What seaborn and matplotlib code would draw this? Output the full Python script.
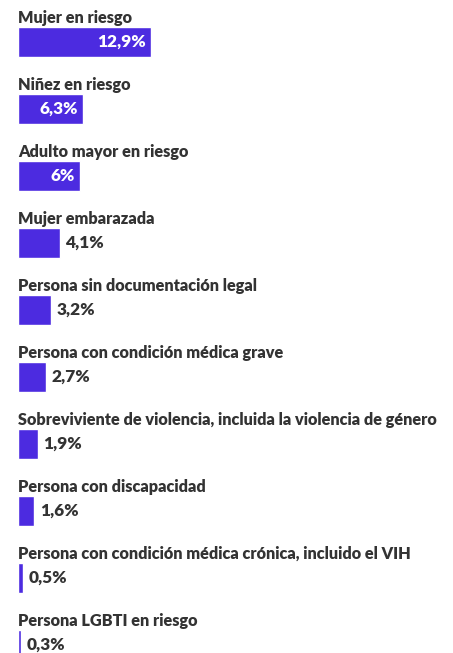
import pandas as pd
import matplotlib.pyplot as plt
import seaborn as sns

categories = [
    "Mujer en riesgo",
    "Niñez en riesgo",
    "Adulto mayor en riesgo",
    "Mujer embarazada",
    "Persona sin documentación legal",
    "Persona con condición médica grave",
    "Sobreviviente de violencia, incluida la violencia de género",
    "Persona con discapacidad",
    "Persona con condición médica crónica, incluido el VIH",
    "Persona LGBTI en riesgo",
]
values = [12.9, 6.3, 6.0, 4.1, 3.2, 2.7, 1.9, 1.6, 0.5, 0.3]
value_labels = ["12,9%", "6,3%", "6%", "4,1%", "3,2%", "2,7%", "1,9%", "1,6%", "0,5%", "0,3%"]

sns.set_theme(style="white")
plt.rcParams['font.family'] = ['Lato', 'DejaVu Sans']

BAR = "#4c2be0"
TEXT = "#333333"

df = pd.DataFrame({"cat": categories, "val": values})

fig = plt.figure(figsize=(4.53, 6.53), dpi=100)
ax = fig.add_axes([0, 0, 1, 1])

sns.barplot(data=df, x="val", y="cat", orient="h", color=BAR, width=0.435,
            saturation=1, ax=ax)

px = 133 / 12.9  # pixels per percent
ax.set_xlim(-18 / px, (453 - 18) / px)
ax.set_ylim((653 - 42) / 67, -42 / 67)
ax.axis("off")

half = 29 / 67 / 2
for i, (cat, v, lab) in enumerate(zip(categories, values, value_labels)):
    # category title above bar
    ax.annotate(cat, xy=(0, i - half), xytext=(0, 3.3), textcoords="offset points",
                ha="left", va="baseline", fontsize=11.7, fontweight="heavy", color=TEXT)
    if v >= 5:
        ax.annotate(lab, xy=(v, i), xytext=(-3.6, 0), textcoords="offset points",
                    ha="right", va="center", fontsize=12.4, fontweight="heavy", color="white")
    else:
        ax.annotate(lab, xy=(v, i), xytext=(3.8, 0), textcoords="offset points",
                    ha="left", va="center", fontsize=12.4, fontweight="heavy", color=TEXT)

fig.savefig("out.png", dpi=100)
